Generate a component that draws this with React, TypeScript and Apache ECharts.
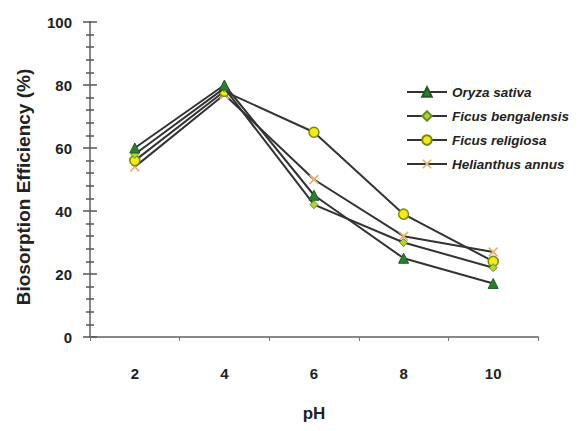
import React, { useEffect, useRef } from "react";
import * as echarts from "echarts";

const categories = ["2", "4", "6", "8", "10"];
const oryza = [60, 80, 45, 25, 17];
const ficusBeng = [58, 79, 42, 30, 22];
const ficusRel = [56, 78, 65, 39, 24];
const helianthus = [54, 77, 50, 32, 27];
const yTicks = [0, 20, 40, 60, 80, 100];

const xMark =
  "path://M0,1.2 L1.2,0 L5,3.8 L8.8,0 L10,1.2 L6.2,5 L10,8.8 L8.8,10 L5,6.2 L1.2,10 L0,8.8 L3.8,5 Z";

const FONT = "Liberation Sans, Arial, sans-serif";

export default function App() {
  const ref = useRef<HTMLDivElement>(null);
  useEffect(() => {
    const chart = echarts.init(ref.current!, null, { renderer: "svg" });
    const lineStyle = { color: "#333333", width: 2 };
    chart.setOption({
      animation: false,
      backgroundColor: "#ffffff",
      grid: { left: 90, right: 47, top: 22, bottom: 94, containLabel: false },
      graphic: [
        {
          type: "text",
          x: 23,
          y: 187,
          rotation: Math.PI / 2,
          style: {
            text: "Biosorption Efficiency (%)",
            font: `bold 19px ${FONT}`,
            fill: "#222",
            align: "center",
            verticalAlign: "middle",
          },
        },
      ],
      legend: {
        orient: "vertical",
        left: 401,
        top: 80,
        itemWidth: 40,
        itemHeight: 12,
        itemGap: 10,
        textStyle: {
          fontFamily: FONT,
          fontStyle: "italic",
          fontWeight: "bold",
          fontSize: 13.5,
          color: "#222",
        },
        data: ["Oryza sativa", "Ficus bengalensis", "Ficus religiosa", "Helianthus annus"],
      },
      xAxis: {
        type: "category",
        data: categories,
        boundaryGap: true,
        name: "pH",
        nameLocation: "middle",
        nameGap: 68,
        nameTextStyle: {
          fontFamily: FONT,
          fontWeight: "bold",
          fontSize: 17,
          color: "#222",
        },
        axisLine: { lineStyle: { color: "#888", width: 2 } },
        axisTick: { show: true, length: 4, lineStyle: { color: "#777" } },
        axisLabel: {
          margin: 29,
          fontFamily: FONT,
          fontWeight: "bold",
          fontSize: 15,
          color: "#222",
        },
      },
      yAxis: [
        {
          type: "value",
          min: 0,
          max: 100,
          interval: 20,
          axisLine: { show: true, lineStyle: { color: "#888", width: 2 } },
          axisTick: { show: true, length: 7, lineStyle: { color: "#555", width: 1.5 } },
          minorTick: { show: true, splitNumber: 5, length: 4, lineStyle: { color: "#555", width: 1.5 } },
          splitLine: { show: false },
          axisLabel: {
            margin: 18,
            fontFamily: FONT,
            fontWeight: "bold",
            fontSize: 15,
            color: "#222",
            formatter: (v: number) => (yTicks.includes(v) ? String(v) : ""),
          },
        },
        {
          type: "value",
          min: 0,
          max: 100,
          interval: 20,
          position: "left",
          axisLine: { show: false },
          axisTick: { show: true, inside: true, length: 7, lineStyle: { color: "#555", width: 1.5 } },
          minorTick: { show: true, splitNumber: 5, length: 4, lineStyle: { color: "#555", width: 1.5 } },
          splitLine: { show: false },
          axisLabel: { show: false },
        },
      ],
      series: [
        {
          name: "Oryza sativa",
          type: "line",
          data: oryza,
          symbol: "triangle",
          symbolSize: 10,
          lineStyle,
          itemStyle: { color: "#2e7d32", borderColor: "#1b5e20", borderWidth: 1 },
          z: 4,
        },
        {
          name: "Ficus bengalensis",
          type: "line",
          data: ficusBeng,
          symbol: "diamond",
          symbolSize: 8,
          lineStyle,
          itemStyle: { color: "#b5d334", borderColor: "#6b8e23", borderWidth: 1 },
          z: 3,
        },
        {
          name: "Ficus religiosa",
          type: "line",
          data: ficusRel,
          symbol: "circle",
          symbolSize: 10,
          lineStyle,
          itemStyle: { color: "#f2ea1a", borderColor: "#7a8a10", borderWidth: 1.5 },
          z: 2,
        },
        {
          name: "Helianthus annus",
          type: "line",
          data: helianthus,
          symbol: xMark,
          symbolSize: 10,
          lineStyle,
          itemStyle: { color: "#e8b070", borderColor: "#e8b070", borderWidth: 0 },
          z: 1,
        },
      ],
    });
    return () => chart.dispose();
  }, []);
  return <div ref={ref} style={{ width: 585, height: 431, margin: -8 }} />;
}
